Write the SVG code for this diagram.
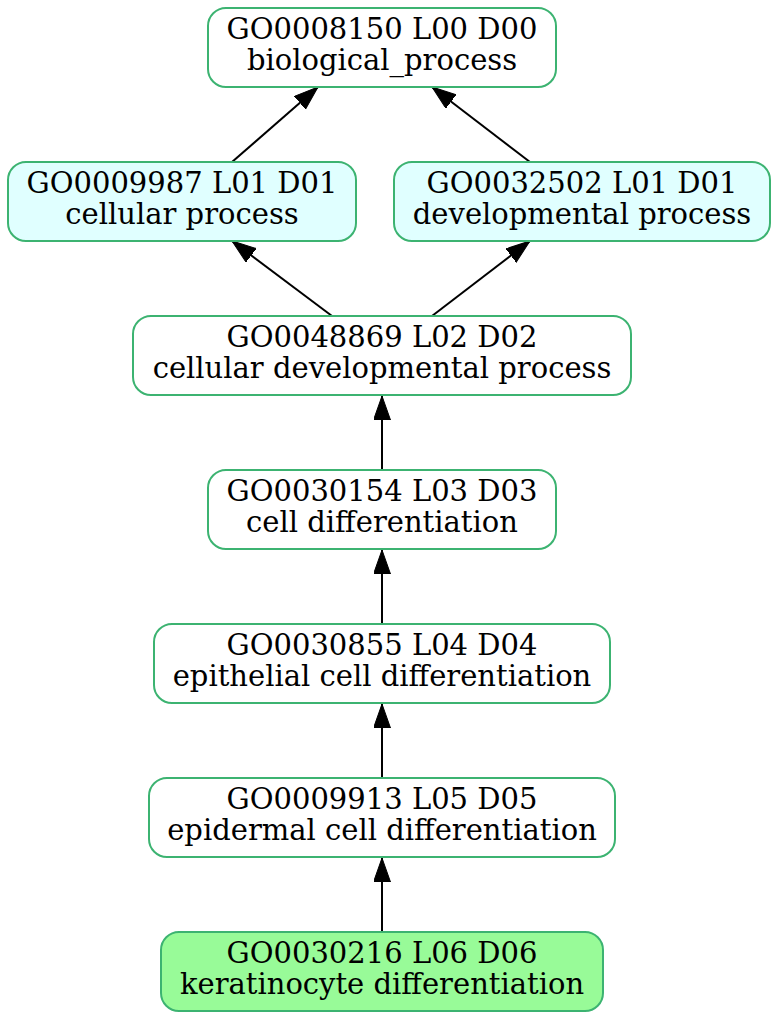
<svg xmlns="http://www.w3.org/2000/svg" width="779" height="1021" viewBox="0 0 779 1021">
<style>
.n rect{stroke:#3cb371;stroke-width:2}
.w{fill:#ffffff}.c{fill:#e0ffff}.g{fill:#98fb98}
text{font-family:"DejaVu Serif","Liberation Serif",serif;font-size:29px;fill:#000;text-anchor:middle}
.e path{stroke:#000;stroke-width:2;fill:none;marker-end:url(#ah)}
</style>
<defs>
<marker id="ah" markerUnits="userSpaceOnUse" markerWidth="26" markerHeight="19" refX="24" refY="8.5" orient="auto">
<path d="M0,0 L24,8.5 L0,17 z" fill="#000" stroke="#000" stroke-width="1"/>
</marker>
</defs>
<rect width="779" height="1021" fill="#fff"/>
<g id="edges" class="e">
<path d="M232,162 L318,87"/>
<path d="M530,162 L432,87"/>
<path d="M332,316 L232,241"/>
<path d="M432,316 L530,241"/>
<path d="M382,470 L382,396"/>
<path d="M382,624 L382,550"/>
<path d="M382,778 L382,704"/>
<path d="M382,932 L382,858"/>
</g>
<g id="GO0008150" class="n"><rect class="w" x="208" y="8" width="348" height="79" rx="18"/><text x="382" y="39">GO0008150 L00 D00</text><text x="382" y="70">biological_process</text></g>
<g id="GO0009987" class="n"><rect class="c" x="8" y="162" width="348" height="79" rx="18"/><text x="182" y="193">GO0009987 L01 D01</text><text x="182" y="224">cellular process</text></g>
<g id="GO0032502" class="n"><rect class="c" x="394" y="162" width="376" height="79" rx="18"/><text x="582" y="193">GO0032502 L01 D01</text><text x="582" y="224">developmental process</text></g>
<g id="GO0048869" class="n"><rect class="w" x="133" y="316" width="498" height="79" rx="18"/><text x="382" y="347">GO0048869 L02 D02</text><text x="382" y="378">cellular developmental process</text></g>
<g id="GO0030154" class="n"><rect class="w" x="208" y="470" width="348" height="79" rx="18"/><text x="382" y="501">GO0030154 L03 D03</text><text x="382" y="532">cell differentiation</text></g>
<g id="GO0030855" class="n"><rect class="w" x="154" y="624" width="456" height="79" rx="18"/><text x="382" y="655">GO0030855 L04 D04</text><text x="382" y="686">epithelial cell differentiation</text></g>
<g id="GO0009913" class="n"><rect class="w" x="149" y="778" width="466" height="79" rx="18"/><text x="382" y="809">GO0009913 L05 D05</text><text x="382" y="840">epidermal cell differentiation</text></g>
<g id="GO0030216" class="n"><rect class="g" x="161" y="932" width="442" height="79" rx="18"/><text x="382" y="963">GO0030216 L06 D06</text><text x="382" y="994">keratinocyte differentiation</text></g>
</svg>
